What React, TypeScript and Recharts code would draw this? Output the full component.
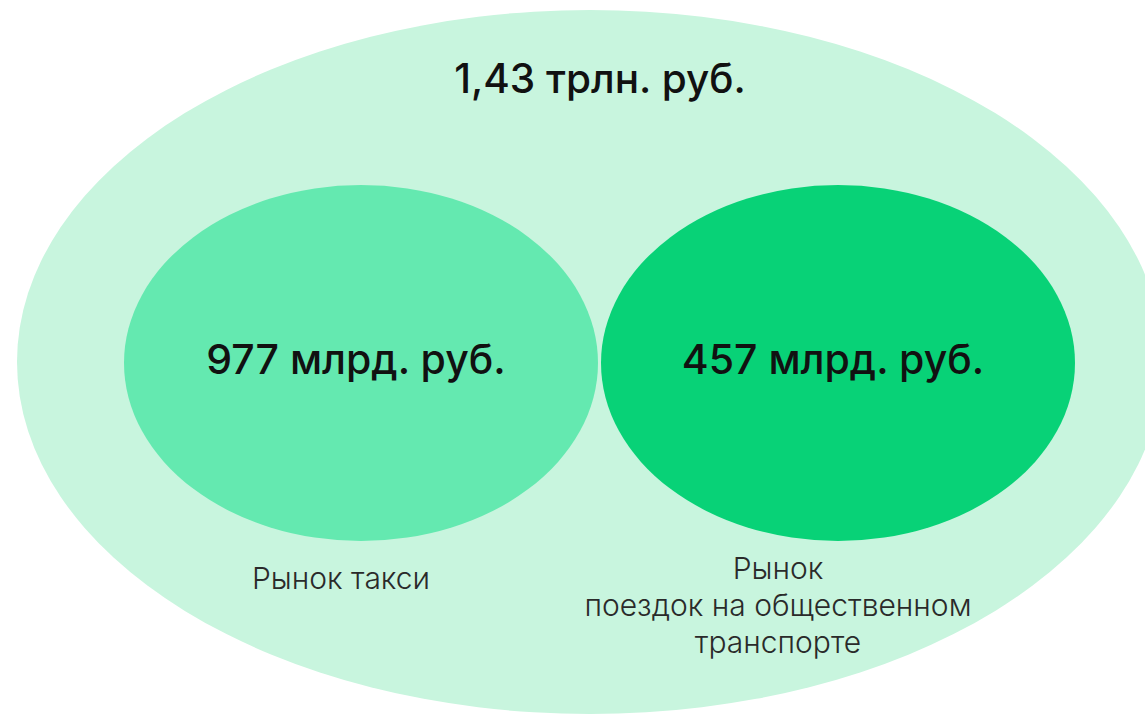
import { ScatterChart, Scatter, XAxis, YAxis } from 'recharts';

// market sizes
const markets = ['Общий рынок', 'Рынок такси', 'Рынок поездок на общественном транспорте'];
const valueLabels = ['1,43 трлн. руб.', '977 млрд. руб.', '457 млрд. руб.'];
const captionLines: string[][] = [[], ['Рынок такси'], ['Рынок', 'поездок на общественном', 'транспорте']];

// diagram layout (chart units = px of the 1145x714 canvas)
const W = 1145;
const H = 714;
const centersX = [590, 361, 838];
const centersY = [362, 363, 363];
const radiiX = [573, 237, 237];
const radiiY = [352, 178, 178];
const fills = ['#c8f5de', '#64e9b0', '#08d277'];

const FONT = 'Inter, "Open Sans", sans-serif';

const data = markets.map((name, i) => ({
  name,
  label: valueLabels[i],
  caption: captionLines[i],
  x: centersX[i],
  y: centersY[i],
  rx: radiiX[i],
  ry: radiiY[i],
  fill: fills[i],
  idx: i,
}));

const EllipseShape = (props: any) => {
  const { cx, cy, payload } = props;
  const outer = payload.idx === 0;
  const labelY = outer ? cy - 284 : cy - 4;
  const capX = payload.idx === 1 ? cx - 20 : cx - 60;
  const capY = payload.idx === 1 ? cy + 215 : cy + 205;
  return (
    <g>
      <ellipse cx={cx} cy={cy} rx={payload.rx} ry={payload.ry} fill={payload.fill} />
      <text
        x={outer ? cx + 10 : cx - 5}
        y={labelY}
        textAnchor="middle"
        dominantBaseline="central"
        fontFamily={FONT}
        fontSize={outer ? 40.5 : 41}
        fontWeight={500}
        fill="#111"
      >
        {payload.label}
      </text>
      {payload.caption.map((line: string, j: number) => (
        <text
          key={line}
          x={capX}
          y={capY + j * 37}
          textAnchor="middle"
          dominantBaseline="central"
          fontFamily={FONT}
          fontSize={30}
          fontWeight={300}
          fill="#2a2a2a"
        >
          {line}
        </text>
      ))}
    </g>
  );
};

export default function App() {
  return (
    <div style={{ position: 'absolute', left: 0, top: 0, background: '#fff' }}>
      <ScatterChart width={W} height={H} margin={{ top: 0, right: 0, bottom: 0, left: 0 }}>
        <XAxis type="number" dataKey="x" domain={[0, W]} hide />
        <YAxis type="number" dataKey="y" domain={[0, H]} reversed hide />
        <Scatter data={data} shape={EllipseShape} isAnimationActive={false} />
      </ScatterChart>
    </div>
  );
}
